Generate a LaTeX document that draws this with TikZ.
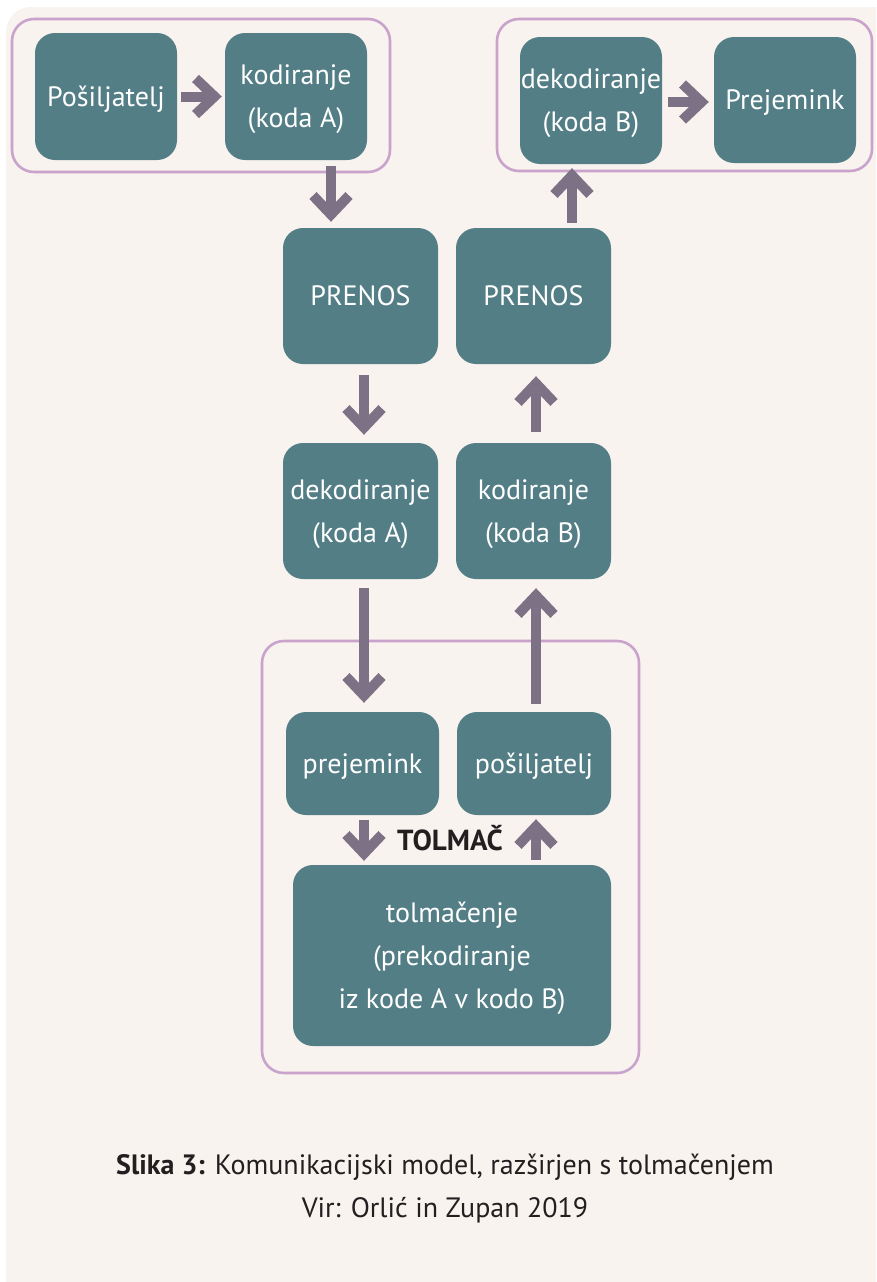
\documentclass[tikz,border=0pt]{standalone}
\usepackage{fontspec}
\setmainfont{PT Sans}
\usetikzlibrary{arrows.meta,calc}
\definecolor{bgc}{HTML}{F8F3EF}
\definecolor{boxc}{HTML}{537E86}
\definecolor{arrc}{HTML}{7D7186}
\definecolor{grpc}{HTML}{C9A3CC}
\definecolor{txtc}{HTML}{231F20}
\tikzset{
  box/.style={fill=boxc, rounded corners=20pt, text=white, align=center,
    inner sep=0pt, text depth=0pt, font=\fontsize{28}{43}\selectfont},
  grp/.style={draw=grpc, line width=2.6pt, rounded corners=22pt},
  conn/.style={draw=arrc, line width=10pt, -{Straight Barb[length=19pt,width=36pt,sharp]}},
}
\begin{document}
\begin{tikzpicture}[x=1pt,y=-1pt]
\clip (0,0) rectangle (876,1282);
\fill[bgc, rounded corners=25pt] (6,7) rectangle (900,1310);
% groups
\draw[grp] (12,19) rectangle (390,172);
\draw[grp] (497,19) rectangle (872,171);
\draw[grp] (262,641) rectangle (639,1073);
% nodes
\node[box, minimum width=142pt, minimum height=127pt] (posA) at (106,96.5) {Pošiljatelj};
\node[box, minimum width=142pt, minimum height=127pt] (kodA) at (296,96.5) {kodiranje\\(koda A)};
\node[box, minimum width=142pt, minimum height=127pt] (dekB) at (591,100.5) {dekodiranje\\(koda B)};
\node[box, minimum width=142pt, minimum height=126pt] (prejB) at (785,100) {Prejemink};
\node[box, minimum width=155pt, minimum height=136pt] (prenL) at (360.5,296) {PRENOS};
\node[box, minimum width=155pt, minimum height=136pt] (prenR) at (533.5,296) {PRENOS};
\node[box, minimum width=155pt, minimum height=136pt] (dekA) at (360.5,511) {dekodiranje\\(koda A)};
\node[box, minimum width=155pt, minimum height=136pt] (kodB) at (533.5,511) {kodiranje\\(koda B)};
\node[box, minimum width=153pt, minimum height=103pt] (prej) at (362.5,763.5) {prejemink};
\node[box, minimum width=154pt, minimum height=103pt] (posi) at (534,763.5) {pošiljatelj};
\node[box, minimum width=318pt, minimum height=181pt] (tolm) at (452,955.5) {tolmačenje\\(prekodiranje\\iz kode A v kodo B)};
\node[font=\fontsize{29}{30}\selectfont\bfseries, text=txtc, inner sep=0pt] (tlabel) at (450,838) {TOLMAČ};
% caption
\node[font=\fontsize{28}{43}\selectfont, text=txtc, align=center, inner sep=0pt] (cap) at (445,1189)
  {\textbf{Slika 3:} Komunikacijski model, razširjen s tolmačenjem\\Vir: Orlić in Zupan 2019};
% x guides
\coordinate (xa) at (331,0);
\coordinate (xb) at (364,0);
\coordinate (xc) at (572,0);
\coordinate (xd) at (536,0);
% connectors
\draw[conn, shorten <=4pt, shorten >=3pt] (posA.east) -- (kodA.west);
\draw[conn, shorten <=6pt, shorten >=5pt] (dekB.east |- 0,102) -- (prejB.west |- 0,102);
\draw[conn, shorten <=6pt, shorten >=6pt] (kodA.south -| xa) -- (prenL.north -| xa);
\draw[conn, shorten <=11pt, shorten >=8pt] (prenL.south -| xb) -- (dekA.north -| xb);
\draw[conn, shorten <=9pt, shorten >=9pt] (dekA.south -| xb) -- (prej.north -| xb);
\draw[conn, shorten <=5pt, shorten >=4pt] (prej.south -| xb) -- (tolm.north -| xb);
\draw[conn, shorten <=5pt, shorten >=4pt] (tolm.north -| xd) -- (posi.south -| xd);
\draw[conn, shorten <=8pt, shorten >=9pt] (posi.north -| xd) -- (kodB.south -| xd);
\draw[conn, shorten <=11pt, shorten >=12pt] (kodB.north -| xd) -- (prenR.south -| xd);
\draw[conn, shorten <=5pt, shorten >=4pt] (prenR.north -| xc) -- (dekB.south -| xc);
\end{tikzpicture}
\end{document}
